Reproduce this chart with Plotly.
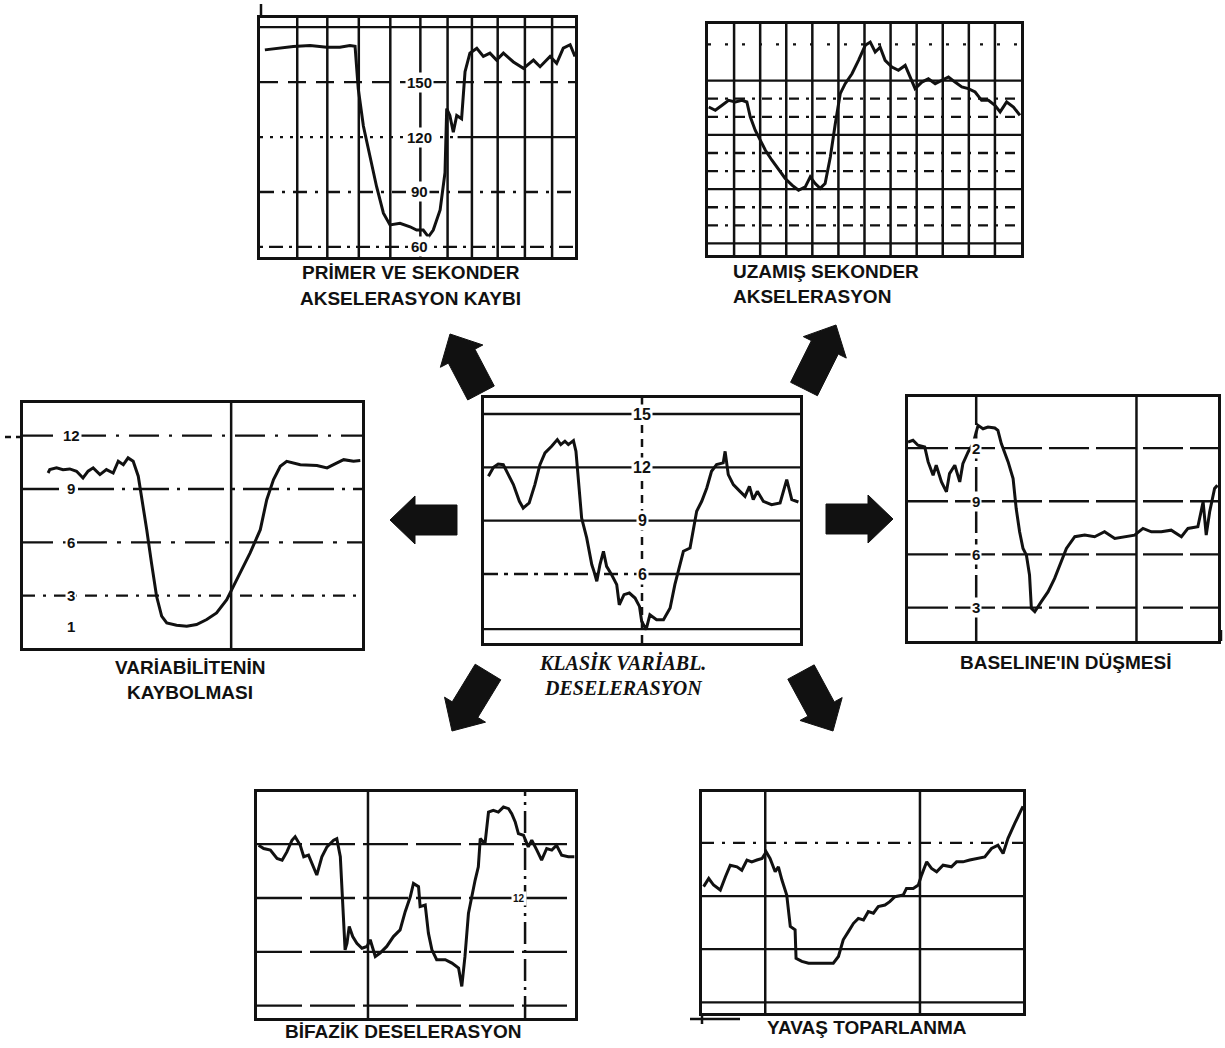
import math
import plotly.graph_objects as go

W, H = 1225, 1048

# ------------------------------------------------------------------ data
# Panel 1: PRİMER VE SEKONDER AKSELERASYON KAYBI (bpm)
p1_x = [0.17, 0.58, 1.16, 1.75, 2.33, 2.79, 3.14, 3.32, 3.43, 3.61, 3.84, 4.07, 4.31, 4.54, 4.89, 5.24,
        5.47, 5.70, 5.88, 6.05, 6.29, 6.46, 6.52, 6.63, 6.75, 6.87, 7.04, 7.16, 7.33, 7.57, 7.80, 8.03,
        8.26, 8.50, 8.85, 9.20, 9.55, 9.78, 10.13, 10.36, 10.59, 10.83, 11.0]
p1_y = [167.6, 168.5, 169.5, 170, 169, 169, 170, 169.5, 146.5, 126, 109.7, 93, 78.4, 72, 72.9, 71,
        69.2, 69.2, 65.5, 69.2, 80.2, 100.5, 135.5, 131.8, 122.6, 131.8, 130, 155.7, 165.8, 168.5, 164, 165.8,
        162, 165.8, 161, 157.5, 162, 158.4, 164, 160.3, 168.5, 170.4, 164]
p1_labels = ["150", "120", "90", "60"]
p1_label_vals = [150, 120, 90, 60]

# Panel 2: UZAMIŞ SEKONDER AKSELERASYON (bpm)
p2_x = [0.03, 0.28, 0.54, 0.79, 1.05, 1.30, 1.49, 1.62, 1.81, 2.0, 2.20, 2.45, 2.71, 2.96, 3.22, 3.47,
        3.73, 3.92, 4.11, 4.30, 4.49, 4.69, 4.88, 5.07, 5.26, 5.52, 5.77, 6.03, 6.22, 6.41, 6.60, 6.79,
        7.05, 7.30, 7.56, 7.75, 7.94, 8.20, 8.45, 8.71, 8.96, 9.22, 9.47, 9.73, 9.98, 10.24, 10.49, 10.75,
        11.0, 11.2, 11.45, 11.71, 11.96]
p2_y = [135.4, 133.6, 136.4, 139.1, 138.2, 139.1, 138.2, 130, 122.6, 117, 111.5, 106, 100.5, 95.9, 92.2, 89.4,
        91.3, 96.8, 93.1, 90.4, 93.1, 107.8, 126.2, 142.8, 148.3, 153.8, 161.2, 169.5, 171.3, 165.8, 168.5, 161.2,
        157.5, 155.7, 158.4, 152, 145.6, 149.2, 151, 148.3, 150.1, 152, 149.2, 146.5, 145.6, 143.7, 139.1, 139.1,
        136.4, 132.7, 138.2, 135.4, 130.8]

# Panel 3: VARİABİLİTENİN KAYBOLMASI
p3_x = [0.74, 0.79, 0.99, 1.18, 1.38, 1.58, 1.77, 1.92, 2.07, 2.27, 2.46, 2.66, 2.81, 2.96, 3.10, 3.25,
        3.40, 3.50, 3.65, 3.79, 3.94, 4.09, 4.24, 4.53, 4.83, 5.12, 5.42, 5.71, 6.01, 6.21, 6.40, 6.70,
        7.0, 7.19, 7.39, 7.59, 7.78, 8.18, 8.67, 8.97, 9.16, 9.46, 9.75, 9.95]
p3_y = [9.9, 10.09, 10.19, 10.09, 10.13, 10.0, 9.62, 10.0, 10.19, 9.81, 10.09, 9.9, 10.56, 10.37, 10.75, 10.56,
        9.72, 8.59, 6.71, 4.84, 2.96, 1.84, 1.46, 1.33, 1.27, 1.37, 1.65, 2.02, 2.77, 3.53, 4.28, 5.40,
        6.71, 8.40, 9.53, 10.28, 10.56, 10.37, 10.32, 10.19, 10.37, 10.65, 10.56, 10.6]
p3_labels = ["12", "9", "6", "3", "1"]
p3_label_vals = [12, 9, 6, 3, 1.27]

# Panel 4: KLASİK VARİABL. DESELERASYON
p4_x = [0.14, 0.30, 0.45, 0.61, 0.77, 0.93, 1.12, 1.24, 1.43, 1.61, 1.77, 1.93, 2.14, 2.32, 2.43, 2.56,
        2.67, 2.83, 2.91, 2.99, 3.09, 3.25, 3.41, 3.48, 3.57, 3.67, 3.78, 3.88, 4.04, 4.20, 4.28, 4.43,
        4.60, 4.78, 4.92, 4.99, 5.13, 5.25, 5.46, 5.68, 5.89, 6.04, 6.18, 6.31, 6.52, 6.62, 6.73, 6.89,
        7.05, 7.20, 7.36, 7.57, 7.63, 7.73, 7.89, 8.10, 8.26, 8.40, 8.52, 8.65, 8.84, 9.10, 9.37, 9.58,
        9.74, 9.95]
p4_y = [11.5, 12.0, 12.19, 12.15, 11.59, 11.03, 10.09, 9.71, 10.0, 11.03, 12.15, 12.81, 13.19, 13.56, 13.28, 13.47,
        13.28, 13.5, 12.9, 11.03, 9.15, 8.03, 6.53, 6.15, 5.59, 6.53, 7.28, 6.43, 5.96, 5.4, 4.27, 4.84,
        4.93, 4.65, 4.18, 3.34, 2.87, 3.71, 3.43, 3.43, 4.09, 5.4, 6.34, 7.28, 7.46, 8.4, 9.53, 10.09,
        10.84, 11.78, 12.15, 12.25, 12.9, 11.59, 11.03, 10.65, 10.37, 10.93, 10.18, 10.65, 10.09, 9.9, 10.0, 11.31,
        10.18, 10.05]
p4_labels = ["15", "12", "9", "6"]
p4_label_vals = [15, 12, 9, 6]

# Panel 5: BASELINE'IN DÜŞMESİ
p5_x = [0.0, 0.16, 0.32, 0.54, 0.65, 0.81, 0.91, 1.08, 1.24, 1.34, 1.51, 1.67, 1.77, 1.94, 2.10, 2.26,
        2.42, 2.58, 2.80, 2.90, 3.01, 3.12, 3.23, 3.39, 3.49, 3.60, 3.71, 3.82, 3.92, 3.98, 4.09, 4.30,
        4.52, 4.73, 4.95, 5.11, 5.38, 5.70, 6.02, 6.34, 6.67, 6.99, 7.31, 7.58, 7.85, 8.17, 8.49, 8.82,
        9.03, 9.35, 9.52, 9.62, 9.73, 9.89, 9.98]
p5_y = [12.34, 12.44, 12.16, 12.06, 11.22, 10.47, 11.03, 10.09, 9.53, 10.56, 11.03, 10.09, 11.12, 11.78, 12.25, 13.28,
        13.09, 13.19, 13.13, 13.0, 12.25, 11.78, 11.22, 10.28, 8.59, 7.28, 6.34, 5.96, 4.84, 2.96, 2.77, 3.34,
        3.9, 4.65, 5.59, 6.34, 7.0, 7.09, 7.0, 7.28, 6.9, 7.0, 7.09, 7.47, 7.28, 7.28, 7.37, 7.0,
        7.47, 7.56, 8.97, 7.09, 8.4, 9.72, 9.9]
p5_labels = ["2", "9", "6", "3"]
p5_label_vals = [12, 9, 6, 3]

# Panel 6: BİFAZİK DESELERASYON (bpm)
p6_x = [0.05, 0.21, 0.42, 0.63, 0.79, 0.94, 1.10, 1.20, 1.36, 1.47, 1.62, 1.78, 1.88, 2.04, 2.20, 2.41,
        2.51, 2.62, 2.67, 2.72, 2.77, 2.83, 2.90, 3.01, 3.14, 3.30, 3.46, 3.56, 3.72, 3.87, 4.08, 4.29,
        4.50, 4.66, 4.82, 4.92, 5.08, 5.13, 5.29, 5.39, 5.50, 5.65, 5.92, 6.13, 6.34, 6.44, 6.54, 6.65,
        6.75, 6.86, 6.96, 7.02, 7.17, 7.28, 7.43, 7.59, 7.75, 7.91, 8.01, 8.12, 8.22, 8.38, 8.53, 8.64,
        8.80, 8.95, 9.11, 9.27, 9.42, 9.58, 9.79, 9.98]
p6_y = [149.4, 147.6, 146.7, 142.0, 141.1, 145.7, 152.2, 154.1, 149.4, 143.0, 143.9, 137.4, 132.8, 143.0, 148.5, 152.2,
        153.1, 143.0, 126.3, 107.8, 91.1, 94.8, 104.1, 98.5, 94.8, 92.0, 93.0, 96.7, 87.4, 89.3, 93.0, 98.5,
        102.2, 112.4, 120.7, 128.1, 126.3, 115.2, 116.1, 100.4, 91.1, 85.6, 85.6, 83.7, 80.9, 70.7, 87.4, 111.5,
        120.7, 130.0, 137.4, 153.1, 150.3, 167.9, 168.9, 167.9, 170.7, 169.8, 167.0, 162.4, 155.9, 155.0, 148.5, 152.2,
        146.7, 141.1, 147.6, 146.7, 149.4, 143.9, 143.0, 143.0]
p6_labels = ["12"]
p6_label_vals = [120]

# Panel 7: YAVAŞ TOPARLANMA (bpm)
p7_x = [0.05, 0.21, 0.36, 0.57, 0.73, 0.88, 1.09, 1.24, 1.40, 1.55, 1.71, 1.87, 2.0, 2.12, 2.28, 2.38,
        2.49, 2.64, 2.75, 2.90, 2.93, 3.11, 3.32, 3.68, 4.09, 4.25, 4.40, 4.56, 4.72, 4.87, 5.03, 5.18,
        5.34, 5.49, 5.70, 5.85, 6.01, 6.27, 6.37, 6.58, 6.74, 6.84, 7.00, 7.15, 7.31, 7.51, 7.77, 7.93,
        8.13, 8.34, 8.60, 8.81, 9.02, 9.22, 9.38, 9.53, 9.74, 10.0]
p7_y = [125.3, 129.9, 126.2, 123.4, 130.9, 137.4, 136.5, 134.6, 140.3, 139.3, 140.3, 141.2, 144.9, 141.2, 133.7, 136.5,
        129.0, 120.6, 102.8, 100.9, 84.9, 83.1, 82.1, 82.1, 82.1, 85.9, 95.3, 99.9, 104.6, 107.4, 106.5, 111.2,
        110.3, 114.0, 114.9, 116.8, 119.6, 120.6, 124.3, 124.3, 126.2, 131.8, 139.3, 135.6, 133.7, 137.4, 136.5, 139.3,
        139.3, 140.3, 141.2, 142.1, 146.8, 148.7, 144.0, 152.4, 160.9, 170.6]

# Captions
t1 = ["PRİMER VE SEKONDER", "AKSELERASYON KAYBI"]
t2 = ["UZAMIŞ SEKONDER", "AKSELERASYON"]
t3 = ["VARİABİLİTENİN", "KAYBOLMASI"]
t4 = ["KLASİK VARİABL.", "DESELERASYON"]
t5 = ["BASELINE'IN DÜŞMESİ"]
t6 = ["BİFAZİK DESELERASYON"]
t7 = ["YAVAŞ TOPARLANMA"]

# ------------------------------------------------------------------ layout config
panels = [
    dict(box=(260, 18, 575, 257), xr=(0, 11), yr=(54.5, 185), x=p1_x, y=p1_y,
         hseg=[(180, 0, 11, "solid"), (150, 0, 11, "18px,10px"), (120, 0, 6.9, "3px,7px"),
               (120, 6.9, 11, "solid"), (90, 0, 11, "14px,8px,3px,8px"), (60, 0, 11, "3px,6px,14px,6px")],
         vseg=[(v, "solid") for v in [1.3, 2.35, 3.45, 4.55, 5.6, 6.55, 7.4, 8.3, 9.25, 10.2]],
         labels=p1_labels, lvals=p1_label_vals, lx=5.57, lsize=15),
    dict(box=(708, 24, 1021, 255), xr=(0, 12), yr=(53.6, 181.3), x=p2_x, y=p2_y,
         hseg=[(v, 0, 12, "solid") for v in [60, 90, 120, 150]] +
              [(v, 0, 12, "10px,7px,3px,7px") for v in [70, 80, 100, 110, 130, 140]] +
              [(170, 0, 12, "3px,14px")],
         vseg=[(v, "solid") for v in range(1, 12)],
         labels=[], lvals=[], lx=0, lsize=12),
    dict(box=(23, 403, 362, 648), xr=(0, 10), yr=(0.05, 13.84), x=p3_x, y=p3_y,
         hseg=[(12, 0, 10, "30px,10px,3px,10px"), (9, 0, 10, "36px,8px,3px,8px"),
               (6, 0, 10, "30px,10px,4px,10px"), (3, 0, 10, "12px,8px,3px,8px")],
         vseg=[(6.14, "solid")],
         labels=p3_labels, lvals=p3_label_vals, lx=1.43, lsize=15),
    dict(box=(484, 398, 800, 643), xr=(0, 10), yr=(2.12, 15.9), x=p4_x, y=p4_y,
         hseg=[(15, 0, 10, "solid"), (12, 0, 10, "solid"), (9, 0, 10, "solid"),
               (6, 0, 5, "14px,6px,4px,6px"), (6, 5, 10, "solid"), (2.9, 0, 10, "solid")],
         vseg=[(5.0, "8px,6px")],
         labels=p4_labels, lvals=p4_label_vals, lx=5.0, lsize=16),
    dict(box=(908, 397, 1218, 641), xr=(0, 10), yr=(1.12, 14.88), x=p5_x, y=p5_y,
         hseg=[(v, 0, 10, "40px,7px") for v in [12, 9, 6, 3]],
         vseg=[(2.2, "30px,6px"), (7.37, "solid")],
         labels=p5_labels, lvals=p5_label_vals, lx=2.2, lsize=15),
    dict(box=(257, 792, 575, 1018), xr=(0, 10), yr=(53.1, 179.1), x=p6_x, y=p6_y,
         hseg=[(v, 0, 10, "45px,8px") for v in [150, 120, 90, 60]],
         vseg=[(3.49, "solid"), (8.43, "22px,6px,3px,6px")],
         labels=p6_labels, lvals=p6_label_vals, lx=8.25, lsize=10),
    dict(box=(702, 792, 1023, 1013), xr=(0, 10), yr=(54, 178.7), x=p7_x, y=p7_y,
         hseg=[(150, 0, 10, "12px,8px,3px,8px"), (120, 0, 10, "solid"), (90, 0, 10, "solid"),
               (60, 0, 10, "solid")],
         vseg=[(1.97, "solid"), (6.79, "solid")],
         labels=[], lvals=[], lx=0, lsize=12),
]

captions = [
    (t1, [(411, 272), (410, 298)], "center", False),
    (t2, [(731, 271), (731, 296)], "left", False),
    (t3, [(190, 667), (190, 692)], "center", False),
    (t4, [(622, 662), (623, 688)], "center", True),
    (t5, [(1065, 662)], "center", False),
    (t6, [(403, 1031)], "center", False),
    (t7, [(867, 1027)], "center", False),
]

arrows = [((481, 393), (450, 334)), ((804, 389), (836, 325)),
          ((457, 520), (390, 520)), ((826, 519), (893, 519)),
          ((488, 672), (452, 731)), ((801, 672), (833, 731))]

INK = "#111111"

fig = go.Figure()
shapes = []
annotations = []
layout_axes = {}


def px_to_paper(x, y):
    return x / W, 1 - y / H


for i, p in enumerate(panels, start=1):
    sfx = "" if i == 1 else str(i)
    xref, yref = "x" + sfx, "y" + sfx
    l, t, r, b = p["box"]
    layout_axes["xaxis" + sfx] = dict(domain=[l / W, r / W], range=list(p["xr"]), anchor=yref,
                                      showgrid=False, zeroline=False, showticklabels=False, ticks="",
                                      showline=True, mirror=True, linecolor=INK, linewidth=3,
                                      fixedrange=True)
    layout_axes["yaxis" + sfx] = dict(domain=[1 - b / H, 1 - t / H], range=list(p["yr"]), anchor=xref,
                                      showgrid=False, zeroline=False, showticklabels=False, ticks="",
                                      showline=True, mirror=True, linecolor=INK, linewidth=3,
                                      fixedrange=True)
    for (yv, x0, x1, dash) in p["hseg"]:
        shapes.append(dict(type="line", xref=xref, yref=yref, x0=x0, x1=x1, y0=yv, y1=yv,
                           line=dict(color=INK, width=2.3, dash=dash), layer="below"))
    for (xv, dash) in p["vseg"]:
        shapes.append(dict(type="line", xref=xref, yref=yref, x0=xv, x1=xv, y0=p["yr"][0], y1=p["yr"][1],
                           line=dict(color=INK, width=2.5, dash=dash), layer="below"))
    for txt, v in zip(p["labels"], p["lvals"]):
        annotations.append(dict(xref=xref, yref=yref, x=p["lx"], y=v, text="<b>" + txt + "</b>",
                                showarrow=False, bgcolor="white", borderpad=1,
                                font=dict(family="Liberation Sans", size=p["lsize"], color=INK)))
    fig.add_trace(go.Scatter(x=p["x"], y=p["y"], mode="lines", xaxis=xref, yaxis=yref,
                             line=dict(color=INK, width=3), hoverinfo="skip", showlegend=False))

for lines, pos, anchor, italic in captions:
    for txt, (cx, cy) in zip(lines, pos):
        xp, yp = px_to_paper(cx, cy)
        if italic:
            text = "<b><i>" + txt + "</i></b>"
            font = dict(family="Liberation Serif", size=20, color=INK)
        else:
            text = "<b>" + txt + "</b>"
            font = dict(family="Liberation Sans", size=19, color=INK)
        annotations.append(dict(xref="paper", yref="paper", x=xp, y=yp, text=text, showarrow=False,
                                xanchor=anchor, yanchor="middle", font=font))


def arrow_path(tail, tip, shaft_w=30, head_w=48, head_len=25):
    tx, ty = tail
    hx, hy = tip
    dx, dy = hx - tx, hy - ty
    L = math.hypot(dx, dy)
    ux, uy = dx / L, dy / L
    nx, ny = -uy, ux
    bx, by = hx - ux * head_len, hy - uy * head_len
    pts = [(tx + nx * shaft_w / 2, ty + ny * shaft_w / 2),
           (bx + nx * shaft_w / 2, by + ny * shaft_w / 2),
           (bx + nx * head_w / 2, by + ny * head_w / 2),
           (hx, hy),
           (bx - nx * head_w / 2, by - ny * head_w / 2),
           (bx - nx * shaft_w / 2, by - ny * shaft_w / 2),
           (tx - nx * shaft_w / 2, ty - ny * shaft_w / 2)]
    return "M " + " L ".join("{:.5f},{:.5f}".format(*px_to_paper(x, y)) for x, y in pts) + " Z"


for tail, tip in arrows:
    shapes.append(dict(type="path", xref="paper", yref="paper", path=arrow_path(tail, tip),
                       fillcolor=INK, line=dict(color=INK, width=1)))

# frame stubs that stick out of a few charts in the scan
stubs = [((261, 4), (261, 18), "solid"),      # top-left chart, left edge upward
         ((5, 437), (23, 437), "6px,5px"),     # 12-line left of the middle-left chart
         ((702, 1013), (702, 1024), "solid"),  # bottom-right chart, left edge downward
         ((690, 1019), (740, 1019), "solid"),
         ((1221, 641), (1221, 630), "solid")]
for (ax, ay), (bx_, by_), dash in stubs:
    x0p, y0p = px_to_paper(ax, ay)
    x1p, y1p = px_to_paper(bx_, by_)
    shapes.append(dict(type="line", xref="paper", yref="paper", x0=x0p, x1=x1p, y0=y0p, y1=y1p,
                       line=dict(color=INK, width=2.5, dash=dash)))

fig.update_layout(width=W, height=H, margin=dict(l=0, r=0, t=0, b=0),
                  paper_bgcolor="white", plot_bgcolor="white",
                  shapes=shapes, annotations=annotations, showlegend=False, **layout_axes)

fig.write_html("out.html", config={"displayModeBar": False},
               post_script="document.body.style.margin='0';document.body.style.overflow='hidden';")
